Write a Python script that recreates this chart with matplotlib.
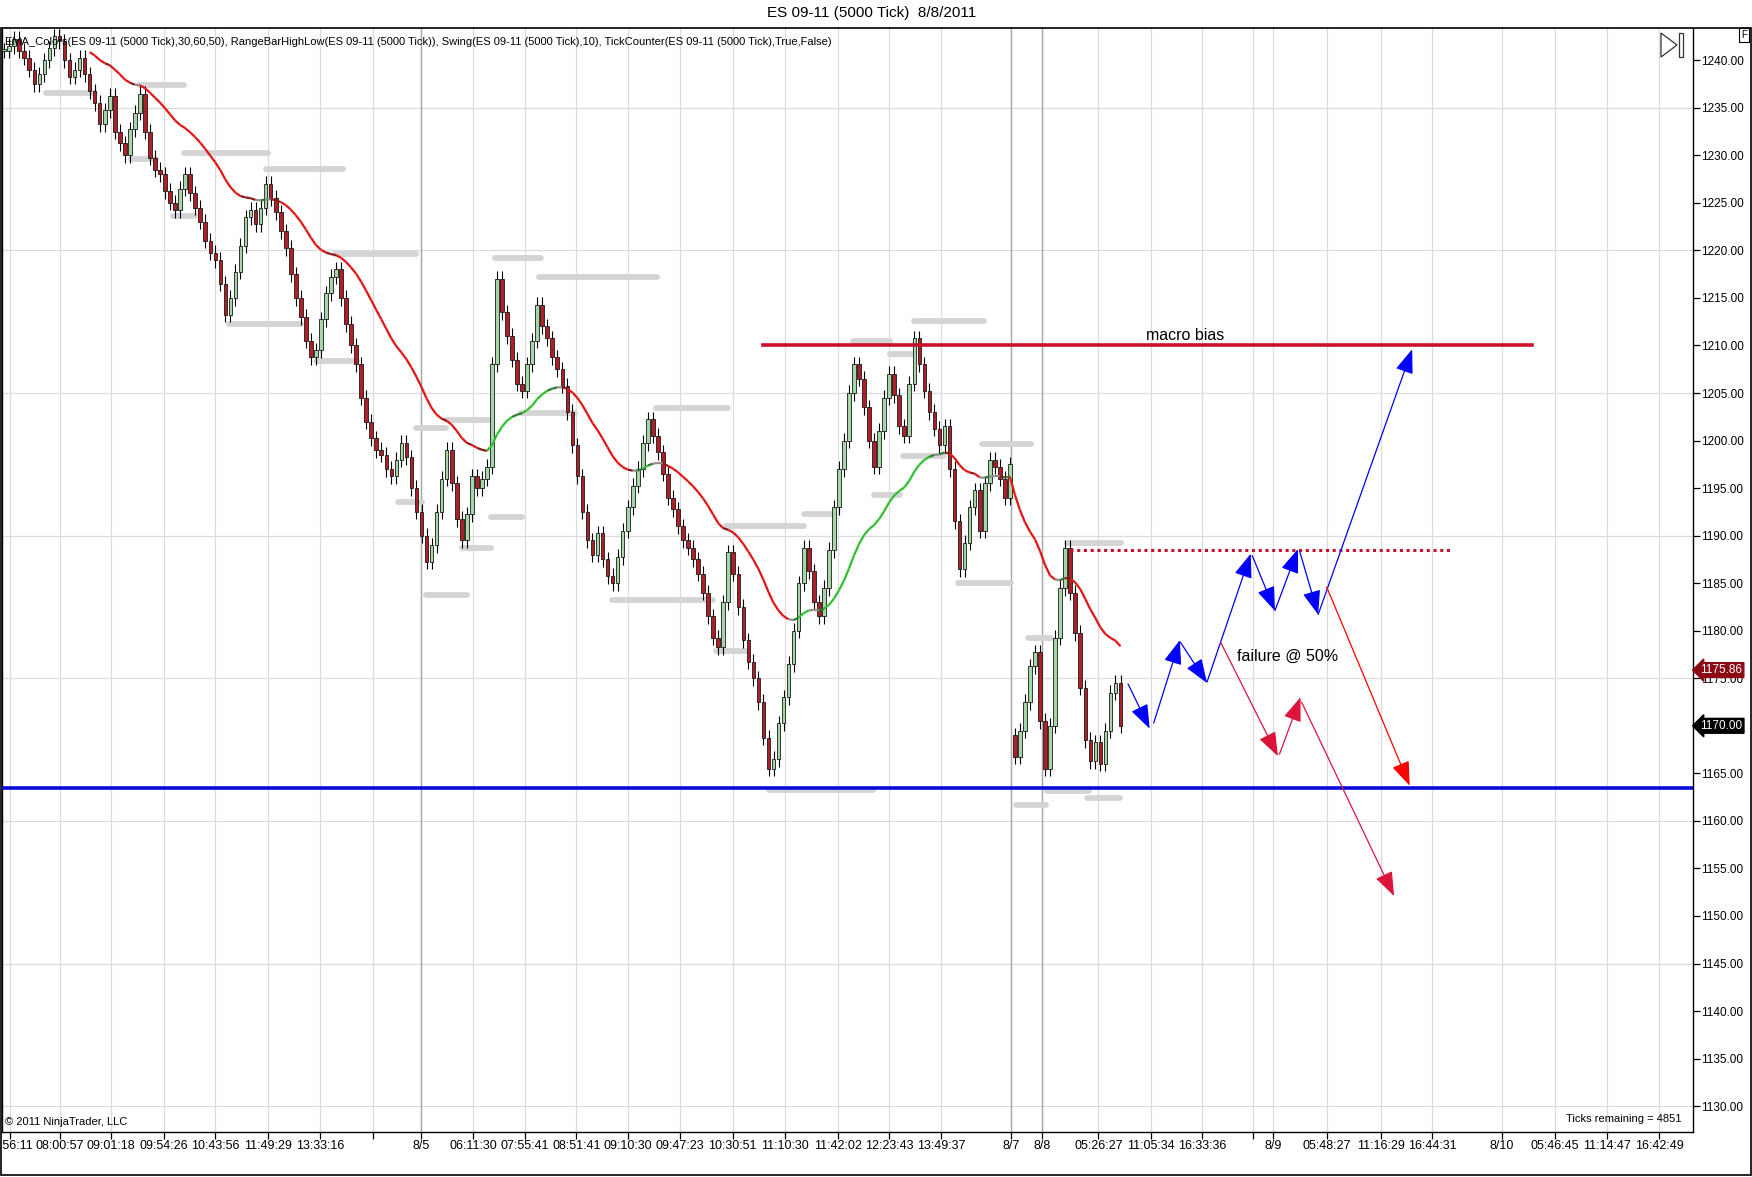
import numpy as np
import matplotlib.pyplot as plt
from matplotlib.collections import LineCollection
from matplotlib.patches import Polygon, Rectangle

plt.rcParams['font.family'] = ['Liberation Sans', 'DejaVu Sans']

# ---------------------------------------------------
# Daten (aus dem Chart abgelesen)
# ---------------------------------------------------
closes = [
    1241.0, 1241.5, 1242.25, 1241.0, 1240.25, 1239.0, 1237.5, 1238.5, 1240.0, 1241.25,
    1242.5, 1242.0, 1240.0, 1238.25, 1239.0, 1240.25, 1238.5, 1236.75, 1235.5, 1233.25,
    1234.75, 1236.25, 1232.5, 1231.25, 1230.0, 1232.75, 1234.5, 1236.5, 1232.5, 1229.75,
    1228.5, 1228.0, 1226.25, 1225.0, 1224.25, 1226.5, 1228.0, 1226.0, 1224.5, 1223.0,
    1221.0, 1219.75, 1219.0, 1216.5, 1213.25, 1215.0, 1217.75, 1220.5, 1223.5, 1224.25,
    1222.75, 1224.5, 1227.0, 1225.5, 1224.0, 1222.0, 1220.25, 1217.5, 1215.0, 1213.0,
    1210.5, 1208.75, 1209.5, 1212.75, 1215.5, 1217.25, 1218.0, 1215.0, 1212.25, 1210.0,
    1208.0, 1204.5, 1202.0, 1200.25, 1199.0, 1198.5, 1197.0, 1196.25, 1198.0, 1199.75,
    1198.25, 1195.0, 1192.5, 1190.0, 1187.25, 1189.0, 1192.5, 1196.0, 1199.0, 1195.5,
    1191.75, 1189.5, 1192.25, 1196.25, 1195.0, 1196.0, 1197.25, 1208.0, 1217.0, 1213.5,
    1211.0, 1208.5, 1206.0, 1205.25, 1208.0, 1210.5, 1214.25, 1212.0, 1210.75, 1208.75,
    1207.5, 1205.75, 1203.0, 1199.5, 1196.25, 1192.5, 1189.5, 1188.0, 1190.25, 1187.5,
    1185.75, 1185.0, 1187.75, 1190.5, 1193.0, 1195.25, 1197.0, 1199.75, 1202.25, 1200.5,
    1198.75, 1196.5, 1194.0, 1192.75, 1191.0, 1189.5, 1188.75, 1187.5, 1186.0, 1184.0,
    1181.5, 1179.25, 1178.25, 1183.0, 1188.25, 1186.0, 1182.5, 1179.0, 1176.75, 1175.0,
    1172.5, 1168.75, 1165.5, 1166.5, 1170.25, 1173.0, 1176.5, 1180.0, 1185.0, 1188.75,
    1186.25, 1183.0, 1181.5, 1184.5, 1188.5, 1193.0, 1197.0, 1200.0, 1205.0, 1208.0,
    1206.5, 1203.5, 1200.0, 1197.25, 1201.0, 1204.5, 1207.0, 1204.75, 1201.5, 1200.5,
    1206.0, 1210.75, 1208.0, 1205.25, 1203.0, 1201.25, 1199.5, 1201.5, 1197.0, 1191.5,
    1186.5, 1189.25, 1193.0, 1194.75, 1190.5, 1195.5, 1198.0, 1197.25, 1196.0, 1194.0,
    1197.5, 1166.75, 1169.5, 1172.5, 1176.25, 1177.75, 1170.5, 1165.5, 1170.0, 1179.25,
    1184.5, 1188.75, 1184.0, 1179.75, 1174.0, 1168.5, 1166.25, 1168.25, 1166.0, 1169.5,
    1173.5, 1174.5, 1170.0,
]
GAP_INDEX = 201          # erste Bar nach dem Wochenende
GAP_OPEN = 1169.0
EMA_SEED = 1243.5
EMA_PERIOD = 30
LAST_EMA_LABEL = 1175.86
LAST_PRICE_LABEL = 1170.00

# Swing-/RangeBar-Linien: Start, Ende (Bar-Index), Preis
swing_start = [8.4, 26.9, 25.3, 35.8, 33.6, 52.0, 65.8, 44.7, 62.0, 82.0, 87.8, 78.4,
               83.8, 91.1, 96.9, 97.6, 106.4, 102.7, 129.6, 120.9, 141.6, 143.6, 159.1,
               152.0, 168.9, 176.2, 180.9, 172.9, 178.7, 194.4, 189.6, 211.3, 203.6,
               201.3, 207.3, 215.3]
swing_end = [18.0, 35.8, 30.2, 52.4, 38.0, 67.3, 82.0, 59.1, 70.2, 87.8, 96.9, 83.1,
             92.0, 96.9, 102.9, 106.7, 129.8, 113.6, 144.0, 140.9, 148.0, 159.1, 165.1,
             172.7, 176.2, 180.9, 194.9, 178.2, 186.9, 204.2, 200.2, 222.0, 208.2,
             207.1, 215.8, 221.8]
swing_price = [1236.6, 1237.4, 1229.6, 1230.2, 1223.6, 1228.6, 1219.6, 1212.3, 1208.4,
               1201.3, 1202.2, 1193.5, 1183.8, 1188.7, 1192.0, 1219.2, 1217.2, 1202.9,
               1203.4, 1183.2, 1177.9, 1191.0, 1192.3, 1163.3, 1210.5, 1209.1, 1212.6,
               1194.3, 1198.4, 1199.6, 1185.0, 1189.2, 1179.2, 1161.7, 1163.1, 1162.4]

# Zeitachse
tick_pos = [1.1, 11.1, 21.3, 31.8, 42.0, 52.4, 62.9, 73.3, 82.9, 93.3, 103.6, 113.8,
            124.0, 134.4, 144.9, 155.3, 165.8, 176.0, 186.4, 200.2, 206.4, 217.6,
            228.0, 238.2, 248.4, 252.4, 263.1, 273.8, 284.0, 297.8, 308.4, 318.7, 329.1]
tick_lbl = ["07:56:11", "08:00:57", "09:01:18", "09:54:26", "10:43:56", "11:49:29",
            "13:33:16", "", "8/5", "06:11:30", "07:55:41", "08:51:41", "09:10:30",
            "09:47:23", "10:30:51", "11:10:30", "11:42:02", "12:23:43", "13:49:37",
            "8/7", "8/8", "05:26:27", "11:05:34", "16:33:36", "", "8/9", "05:48:27",
            "11:16:29", "16:44:31", "8/10", "05:46:45", "11:14:47", "16:42:49"]
session_pos = [82.9, 200.2, 206.4]

# Zeichnungen
macro_level = 1210.0
macro_x = [150.9, 303.9]
support_level = 1163.5
half_level = 1188.5
half_x = [211.9, 287.8]

blue_arrows = [
    (223.5, 1174.4, 227.8, 1169.7),
    (228.6, 1170.3, 233.8, 1179.0),
    (233.9, 1178.8, 239.2, 1174.5),
    (239.2, 1174.6, 247.9, 1188.1),
    (248.2, 1187.9, 252.7, 1182.1),
    (252.7, 1182.1, 257.3, 1188.6),
    (257.6, 1188.4, 261.3, 1181.7),
    (261.3, 1181.7, 280.0, 1209.6),
]
red_arrows = [
    (241.9, 1178.8, 253.3, 1166.8, '#DC143C'),
    (253.6, 1167.0, 257.8, 1173.0, '#DC143C'),
    (258.0, 1172.5, 276.4, 1152.1, '#DC143C'),
    (263.0, 1184.6, 279.5, 1163.7, '#FF0000'),
]

# ---------------------------------------------------
# EMA berechnen
# ---------------------------------------------------
closes = np.array(closes)
idx = np.arange(len(closes))
alpha = 2.0 / (EMA_PERIOD + 1)
ema = np.empty_like(closes)
prev = EMA_SEED
for k, c in enumerate(closes):
    prev = prev + alpha * (c - prev)
    ema[k] = prev

opens = np.concatenate([[closes[0]], closes[:-1]])
opens[GAP_INDEX] = GAP_OPEN
body_lo = np.minimum(opens, closes)
body_hi = np.maximum(opens, closes)

# ---------------------------------------------------
# Diagramm
# ---------------------------------------------------
fig = plt.figure(figsize=(17.52, 11.77), dpi=100)
ax = fig.add_axes([0.0011, 0.0384, 0.9651, 0.9379])

ax.set_xlim(-0.44, 335.8)
ax.set_ylim(1127.3, 1243.4)

# Gitter
for y in [1235, 1220, 1205, 1190, 1175, 1160, 1145, 1130]:
    ax.axhline(y, color='#DCDCDC', lw=0.9, zorder=0)
for x in tick_pos:
    ax.axvline(x, color='#DCDCDC', lw=0.9, zorder=0)
for x in session_pos:
    ax.axvline(x, color='#A8A8A8', lw=1.0, zorder=0.5)

# Swing-Linien
for s, e, p in zip(swing_start, swing_end, swing_price):
    ax.plot([s, e], [p, p], color='#D4D4D4', lw=4.2, solid_capstyle='round', zorder=1)

# Kerzen
ax.vlines(idx, body_lo - 0.8, body_hi + 0.8, color='black', lw=0.8, zorder=2)
up = closes >= opens
heights = np.maximum(body_hi - body_lo, 0.2)
ax.bar(idx[up], heights[up], bottom=body_lo[up], width=0.72,
       color='#A6D6A6', edgecolor='#1A1A1A', linewidth=0.6, zorder=3)
ax.bar(idx[~up], heights[~up], bottom=body_lo[~up], width=0.72,
       color='#B01E28', edgecolor='#1A1A1A', linewidth=0.6, zorder=3)

# EMA mit Farbwechsel
start = 17
pts = np.column_stack([idx[start:], ema[start:]])
segs = np.stack([pts[:-1], pts[1:]], axis=1)
slope = np.diff(ema[start:])
cols = []
for d in slope:
    if d > 0.25:
        cols.append('#2FBF2F')
    elif d > 0.08:
        cols.append('#2E7A2E')
    elif d > -0.08:
        cols.append('#8C8C8C')
    elif d > -0.25:
        cols.append('#8B1A1A')
    else:
        cols.append('#E31414')
ax.add_collection(LineCollection(segs, colors=cols, linewidths=1.6, zorder=4))

# Linien
ax.plot(macro_x, [macro_level] * 2, color='#C8102E', lw=2.6, zorder=5)
ax.axhline(support_level, color='#0A0ADC', lw=2.6, zorder=5)
ax.plot(half_x, [half_level] * 2, color='#C8102E', lw=2.2, ls=(0, (1, 1.2)), zorder=5)

# Pfeile
for x0, y0, x1, y1 in blue_arrows:
    ax.annotate("", xy=(x1, y1), xytext=(x0, y0),
                arrowprops=dict(arrowstyle='-|>,head_length=0.75,head_width=0.28',
                                color='#0000FF', lw=0.9, shrinkA=0, shrinkB=0,
                                mutation_scale=20), zorder=6)
for x0, y0, x1, y1, c in red_arrows:
    ax.annotate("", xy=(x1, y1), xytext=(x0, y0),
                arrowprops=dict(arrowstyle='-|>,head_length=0.75,head_width=0.28',
                                color=c, lw=0.9, shrinkA=0, shrinkB=0,
                                mutation_scale=20), zorder=6)

ax.text(234.9, 1211.0, "macro bias", fontsize=11.5, ha='center', va='center', zorder=7)
ax.text(255.2, 1177.3, "failure @ 50%", fontsize=11.5, ha='center', va='center', zorder=7)

# Achsen
ax.yaxis.tick_right()
ax.set_yticks(np.arange(1130, 1241, 5))
ax.set_yticklabels([f"{v:.2f}" for v in np.arange(1130, 1241, 5)])
ax.tick_params(axis='y', direction='out', length=5, width=0.9, labelsize=8.5, pad=1)
ax.set_xticks(tick_pos)
ax.set_xticklabels(tick_lbl)
ax.tick_params(axis='x', direction='out', length=5, width=0.9, labelsize=9, pad=1)
for sp in ax.spines.values():
    sp.set_linewidth(1.0)
ax.spines['top'].set_visible(False)

# Preisschilder rechts
for val, fc in [(LAST_EMA_LABEL, '#8B0A14'), (LAST_PRICE_LABEL, '#000000')]:
    ax.annotate(f"{val:.2f}", xy=(1.0, val), xycoords=('axes fraction', 'data'),
                xytext=(5.5, 0), textcoords='offset points', ha='left', va='center',
                fontsize=8.5, color='white', annotation_clip=False, zorder=8,
                bbox=dict(boxstyle='larrow,pad=0.12', fc=fc, ec=fc))

# Texte
ax.text(0.002, 0.992, "EMA_Colors(ES 09-11 (5000 Tick),30,60,50), RangeBarHighLow(ES 09-11 (5000 Tick)), "
        "Swing(ES 09-11 (5000 Tick),10), TickCounter(ES 09-11 (5000 Tick),True,False)",
        transform=ax.transAxes, fontsize=8.0, ha='left', va='top', zorder=10)
ax.text(0.002, 0.004, "© 2011 NinjaTrader, LLC", transform=ax.transAxes,
        fontsize=8, ha='left', va='bottom', zorder=10)
ax.text(0.9934, 0.012, "Ticks remaining = 4851", transform=ax.transAxes,
        fontsize=8, ha='right', va='center', zorder=10)

fig.text(0.4974, 0.9886, "ES 09-11 (5000 Tick)  8/8/2011", fontsize=11,
         ha='center', va='center')

# Rahmen und Symbole
fig.add_artist(Rectangle((0.0004, 0.0021), 0.9988, 0.9742, transform=fig.transFigure,
                         fill=False, ec='black', lw=1.2))
W, H = 1752.0, 1177.0
fig.add_artist(Polygon([(1661 / W, 1 - 33 / H), (1661 / W, 1 - 57 / H), (1677 / W, 1 - 45 / H)],
                       closed=True, fill=False, ec='#333333', lw=0.9, transform=fig.transFigure))
fig.add_artist(Rectangle((1679 / W, 1 - 57 / H), 4 / W, 24 / H, fill=False, ec='#333333',
                         lw=0.9, transform=fig.transFigure))
fig.text(1744 / W, 1 - 35 / H, "F", fontsize=7, ha='center', va='center',
         bbox=dict(boxstyle='square,pad=0.2', fc='white', ec='black', lw=0.8))

fig.savefig("out.png", dpi=100)
